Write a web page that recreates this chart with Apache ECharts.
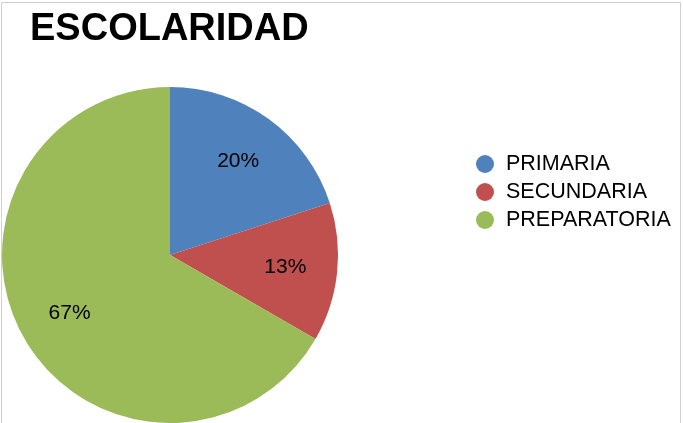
<!DOCTYPE html>
<html lang="es">
<head>
    <meta charset="UTF-8">
    <title>Escolaridad</title>
    <script src="https://cdn.jsdelivr.net/npm/echarts@6/dist/echarts.min.js"></script>
    <style>
        html, body { margin: 0; padding: 0; background: #fff; }
        #chart { width: 683px; height: 423px; }
    </style>
</head>
<body>
<div id="chart"></div>
<script type="text/javascript">
    // datos
    var titulo = 'ESCOLARIDAD';
    var categorias = ['PRIMARIA', 'SECUNDARIA', 'PREPARATORIA'];
    var valores = [3, 2, 10];
    var colores = ['#4f81bd', '#c0504d', '#9bbb59'];

    var fuente = '"Liberation Sans", Arial, sans-serif';
    var datos = categorias.map(function (c, i) {
        return { name: c, value: valores[i], itemStyle: { color: colores[i] } };
    });

    var chart = echarts.init(document.getElementById('chart'));
    var option = {
        animation: false,
        backgroundColor: '#fff',
        title: {
            text: titulo,
            left: 25,
            top: 6,
            textStyle: { fontFamily: fuente, fontWeight: 'bold', fontSize: 38, color: '#000' }
        },
        legend: {
            orient: 'vertical',
            left: 471,
            top: 148,
            itemWidth: 22,
            itemHeight: 18,
            itemGap: 6,
            icon: 'circle',
            data: categorias,
            textStyle: { fontFamily: fuente, fontSize: 21.5, color: '#000', padding: [0, 0, 0, 5] }
        },
        series: [
            {
                // pastel
                type: 'pie',
                center: [170, 255],
                radius: [0, 168],
                startAngle: 90,
                clockwise: true,
                silent: true,
                label: { show: false },
                labelLine: { show: false },
                itemStyle: { borderColor: '#fff', borderWidth: 0 },
                data: datos
            },
            {
                // etiquetas de porcentaje
                type: 'pie',
                center: [170, 255],
                radius: [58, 168],
                startAngle: 90,
                clockwise: true,
                silent: true,
                percentPrecision: 0,
                legendHoverLink: false,
                itemStyle: { color: 'rgba(0,0,0,0)' },
                label: {
                    show: true,
                    position: 'inside',
                    formatter: '{d}%',
                    fontFamily: fuente,
                    fontSize: 21,
                    color: '#000'
                },
                labelLine: { show: false },
                data: categorias.map(function (c, i) {
                    return { name: c + ' ', value: valores[i] };
                })
            }
        ],
        graphic: [
            {
                type: 'rect',
                shape: { x: 1.5, y: 2.5, width: 679, height: 440 },
                style: { fill: 'none', stroke: '#d0d0d0', lineWidth: 1 },
                z: -1
            }
        ]
    };
    chart.setOption(option);
</script>
</body>
</html>
